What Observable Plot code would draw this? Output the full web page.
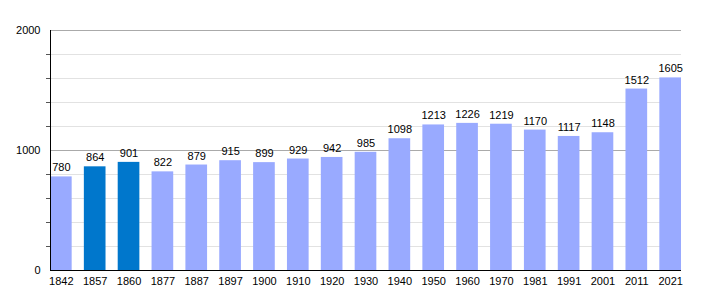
<!DOCTYPE html>
<html>
<head>
<meta charset="utf-8">
<script src="https://cdn.jsdelivr.net/npm/d3@7"></script>
<script src="https://cdn.jsdelivr.net/npm/@observablehq/plot@0.6"></script>
<style>
body { margin: 0; background: #fff; }
svg { font-family: "Liberation Sans", Arial, sans-serif; }
</style>
</head>
<body>
<div id="chart"></div>
<script>
const years = ["1842","1857","1860","1877","1887","1897","1900","1910","1920","1930","1940","1950","1960","1970","1981","1991","2001","2011","2021"];
const population = [780,864,901,822,879,915,899,929,942,985,1098,1213,1226,1219,1170,1117,1148,1512,1605];
const highlighted = ["1857","1860"];
const majorTicks = [0,1000,2000];
const minorTicks = [200,400,600,800,1200,1400,1600,1800];

const data = years.map((y, i) => ({year: y, pop: population[i], hl: highlighted.includes(y)}));

const chart = Plot.plot({
  width: 710,
  height: 300,
  marginLeft: 50,
  marginRight: 29,
  marginTop: 30,
  marginBottom: 30,
  x: {domain: years, paddingInner: 0.36, paddingOuter: 0, round: false, axis: null},
  y: {domain: [0, 2000], axis: null},
  marks: [
    Plot.ruleY(minorTicks, {stroke: "#e2e2e2", strokeWidth: 1}),
    Plot.ruleY([1000, 2000], {stroke: "#aaaaaa", strokeWidth: 1}),
    Plot.axisY({ticks: minorTicks, tickSize: 4, tickFormat: () => "", stroke: "#555", tickPadding: 0, label: null}),
    Plot.barY(data, {x: "year", y: "pop", fill: d => d.hl ? "#0077cc" : "#99aaff"}),
    Plot.text(data, {x: "year", y: "pop", text: d => String(d.pop), dy: -9, fontSize: 11, fill: "#000"}),
    Plot.frame({anchor: "left", stroke: "#000"}),
    Plot.ruleY([0], {stroke: "#000"}),
    Plot.axisY({ticks: majorTicks, tickSize: 0, tickPadding: 10, tickFormat: d => String(d), fontSize: 11, fill: "#000", label: null}),
    Plot.text(years, {x: d => d, y: 0, text: d => d, dy: 11, fontSize: 11, fill: "#000"})
  ]
});
document.getElementById("chart").appendChild(chart);
</script>
</body>
</html>
